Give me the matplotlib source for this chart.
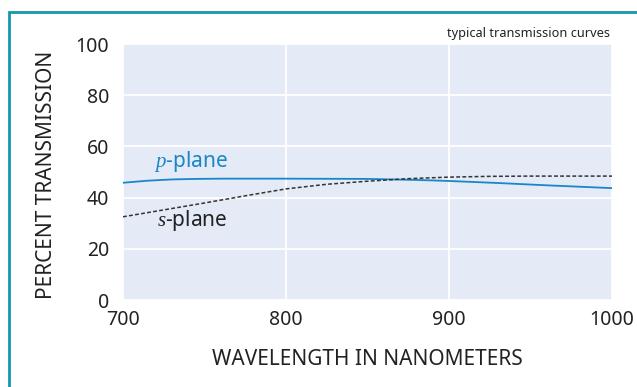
import matplotlib
matplotlib.use("Agg")
import matplotlib.pyplot as plt
from matplotlib.patches import Rectangle

# данные
wl_p = [700, 715, 730, 745, 760, 800, 850, 880, 900, 930, 960, 1000]
p_plane = [45.8, 46.6, 47.1, 47.3, 47.4, 47.4, 47.3, 46.9, 46.5, 45.7, 44.8, 43.7]

wl_s = [700, 725, 750, 775, 800, 825, 850, 875, 900, 925, 950, 1000]
s_plane = [32.5, 35.2, 37.9, 40.7, 43.4, 45.2, 46.4, 47.4, 48.0, 48.3, 48.4, 48.4]

x_ticks = [700, 800, 900, 1000]
y_ticks = [0, 20, 40, 60, 80, 100]

plt.rcParams['font.family'] = ['Noto Sans', 'DejaVu Sans']
plt.rcParams['mathtext.fontset'] = 'custom'
plt.rcParams['mathtext.it'] = 'Liberation Serif:italic'
plt.rcParams['mathtext.rm'] = 'Liberation Serif'

fig = plt.figure(figsize=(6.37, 3.87), dpi=100)
ax = fig.add_axes([123 / 637, 1 - 300 / 387, (612 - 123) / 637, (300 - 44) / 387])

ax.set_facecolor('#e4eaf6')
ax.plot(wl_p, p_plane, color='#1a86c9', lw=1.3, zorder=3)
ax.plot(wl_s, s_plane, color='#333333', lw=1.1, ls=(0, (2.5, 1.5)), zorder=3)

ax.set_xlim(700, 1000)
ax.set_ylim(0, 100)
ax.set_xticks(x_ticks)
ax.set_yticks(y_ticks)
ax.tick_params(length=0, labelsize=14, colors='#222222')
ax.tick_params(axis='y', pad=10)
ax.tick_params(axis='x', pad=7)
ax.grid(color='white', lw=1.3)
ax.set_axisbelow(True)
for sp in ax.spines.values():
    sp.set_visible(False)

ax.set_xlabel('WAVELENGTH IN NANOMETERS', fontsize=15, color='#222222', va='center')
ax.set_ylabel('PERCENT TRANSMISSION', fontsize=15, color='#222222', va='center')
ax.xaxis.set_label_coords(0.5, -0.234)
ax.yaxis.set_label_coords(-0.157, 0.49)

ax.text(719, 52, r'$\it{p}$-plane', fontsize=15, color='#1a86c9', va='baseline')
ax.text(721, 28.9, r'$\it{s}$-plane', fontsize=15, color='#222222', va='baseline')

fig.text(610 / 637, 1 - 33 / 387, 'typical transmission curves', fontsize=9.2,
         color='#222222', ha='right', va='center')

# рамка
fig.patches.append(Rectangle((9 / 637, -0.1), 1.2, 1.1 - 12 / 387,
                             transform=fig.transFigure, fill=False,
                             edgecolor='#1597ae', lw=2))

fig.savefig('out.png', dpi=100)
